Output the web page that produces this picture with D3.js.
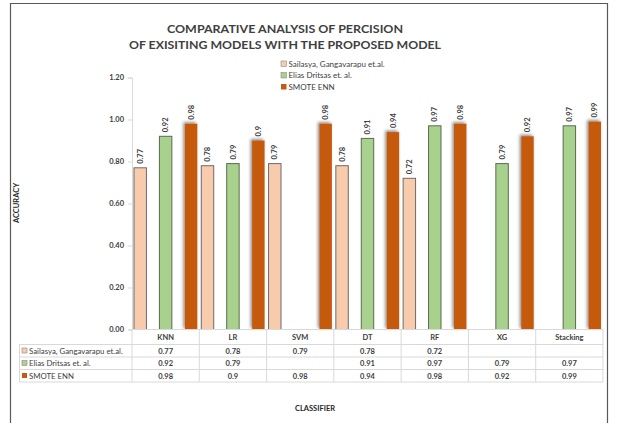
<!DOCTYPE html>
<html><head><meta charset="utf-8">
<script src="https://cdn.jsdelivr.net/npm/d3@7/dist/d3.min.js"></script>
<style>body{margin:0;background:#fff}svg{display:block;font-family:Lato,"Open Sans",sans-serif}</style>
</head><body>
<svg id="c" width="624" height="423"></svg>
<script>
const categories = ["KNN","LR","SVM","DT","RF","XG","Stacking"];
const seriesNames = ["Sailasya, Gangavarapu et.al.","Elias Dritsas et. al.","SMOTE ENN"];
const sailasya = [0.77,0.78,0.79,0.78,0.72,null,null];
const elias = [0.92,0.79,null,0.91,0.97,0.79,0.97];
const smote = [0.98,0.9,0.98,0.94,0.98,0.92,0.99];
const yTicks = [0,0.2,0.4,0.6,0.8,1.0,1.2];
const titleLines = ["COMPARATIVE ANALYSIS OF PERCISION","OF EXISITING MODELS WITH THE PROPOSED MODEL"];

const seriesVals = [sailasya, elias, smote];
const fills = ["#F8CBAD","#A9D18E","#C55A11"];
const strokes = ["#6b6b6b","#5a6b50",null];
const fmt = v => String(v);

const svg = d3.select("#c");
const defs = svg.append("defs");
const f = defs.append("filter").attr("id","sh").attr("x","-50%").attr("y","-20%").attr("width","200%").attr("height","140%");
f.append("feDropShadow").attr("dx",-1.5).attr("dy",-1.5).attr("stdDeviation",1.6).attr("flood-color","#000").attr("flood-opacity",0.45);

// frame
svg.append("path").attr("d","M10.5,440 V3.5 H607.5 V440").attr("fill","none").attr("stroke","#595959").attr("stroke-width",1.2);

const left = 132, right = 603, y0 = 329.5, yTop = 77.5;
const x = d3.scaleBand().domain(categories).range([left,right]).padding(0);
const y = d3.scaleLinear().domain([0,1.2]).range([y0,yTop]);
const cw = x.bandwidth();
const bw = cw*0.185, step = cw*0.378;

// title
const tw = [236, 312];
titleLines.forEach((t,i)=>{
  svg.append("text").attr("x",285).attr("y",33+i*16).attr("text-anchor","middle")
    .attr("font-size",11.5).attr("font-weight","bold").attr("fill","#404040")
    .attr("textLength",tw[i]).attr("lengthAdjust","spacingAndGlyphs").text(t);
});

// legend
seriesNames.forEach((n,i)=>{
  const ly = 64 + i*11.5;
  svg.append("rect").attr("x",281).attr("y",ly-3).attr("width",5.5).attr("height",5.5)
    .attr("fill",fills[i]).attr("stroke",strokes[i]?"#8a8a8a":"none").attr("stroke-width",0.6);
  svg.append("text").attr("x",288.5).attr("y",ly+2.8).attr("font-size",8).attr("fill","#404040").text(n);
});

// y axis
const ya = svg.append("g").attr("transform",`translate(${left},0)`)
  .call(d3.axisLeft(y).tickValues(yTicks).tickFormat(d3.format(".2f")).tickSize(4).tickPadding(4));
ya.select(".domain").attr("stroke","#d9d9d9");
ya.selectAll(".tick line").attr("stroke","#d9d9d9");
ya.selectAll(".tick text").attr("font-size",7.5).attr("font-weight","bold").attr("fill","#404040").attr("font-family","Lato,sans-serif");

svg.append("text").attr("transform","translate(19,203) rotate(-90)").attr("text-anchor","middle")
  .attr("font-size",7.5).attr("font-weight","bold").attr("fill","#262626").text("ACCURACY");

// bars
seriesVals.forEach((vals,si)=>{
  const g = svg.append("g");
  categories.forEach((c,ci)=>{
    const v = vals[ci];
    if(v==null) return;
    const cx = x(c)+cw/2 + (si-1)*step;
    const r = g.append("rect").attr("x",cx-bw/2).attr("y",y(v)).attr("width",bw).attr("height",y0-y(v))
      .attr("fill",fills[si]);
    if(strokes[si]) r.attr("stroke",strokes[si]).attr("stroke-width",1);
    else r.attr("filter","url(#sh)");
    svg.append("text").attr("transform",`translate(${cx+2.6},${y(v)-4}) rotate(-90)`)
      .attr("font-size",7.5).attr("font-weight","bold").attr("fill","#404040").text(fmt(v));
  });
});

// data table
const rowLines = [344.5, 357, 369.5, 382];
const tl = svg.append("g").attr("stroke","#d9d9d9").attr("stroke-width",1);
tl.append("line").attr("x1",left).attr("x2",right).attr("y1",y0).attr("y2",y0).attr("stroke","#d9d9d9");
rowLines.forEach(ry=> tl.append("line").attr("x1",19.5).attr("x2",right).attr("y1",ry).attr("y2",ry));
tl.append("line").attr("x1",19.5).attr("x2",19.5).attr("y1",rowLines[0]).attr("y2",rowLines[3]);
categories.concat(["_end"]).forEach((c,i)=>{
  const xx = left + i*cw;
  tl.append("line").attr("x1",xx).attr("x2",xx).attr("y1",y0).attr("y2",rowLines[3]);
});
categories.forEach(c=>{
  svg.append("text").attr("x",x(c)+cw/2).attr("y",340).attr("text-anchor","middle")
    .attr("font-size",7.5).attr("font-weight","bold").attr("fill","#404040").text(c);
});
seriesVals.forEach((vals,si)=>{
  const ry = rowLines[si] + 9;
  svg.append("rect").attr("x",22).attr("y",ry-5.5).attr("width",5).attr("height",5)
    .attr("fill",fills[si]).attr("stroke",strokes[si]?"#8a8a8a":"none").attr("stroke-width",0.6);
  svg.append("text").attr("x",29).attr("y",ry).attr("font-size",7.8).attr("fill","#404040").text(seriesNames[si]);
  categories.forEach((c,ci)=>{
    if(vals[ci]==null) return;
    svg.append("text").attr("x",x(c)+cw/2).attr("y",ry).attr("text-anchor","middle")
      .attr("font-size",7.5).attr("font-weight","bold").attr("fill","#404040").text(fmt(vals[ci]));
  });
});

svg.append("text").attr("x",315).attr("y",411).attr("text-anchor","middle")
  .attr("font-size",7.5).attr("font-weight","bold").attr("fill","#262626").text("CLASSIFIER");
</script>
</body></html>
